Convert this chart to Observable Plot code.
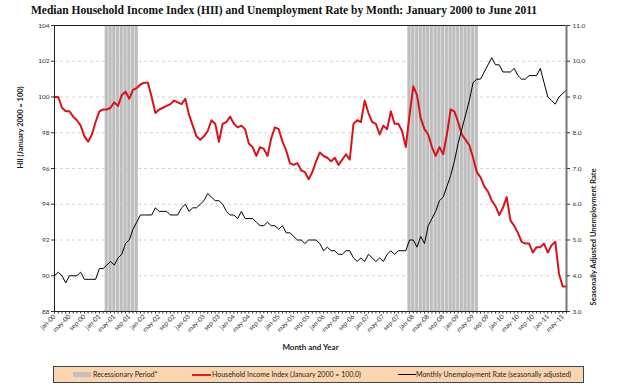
<!DOCTYPE html>
<html><head><meta charset="utf-8">
<script src="https://cdn.jsdelivr.net/npm/d3@7"></script>
<script src="https://cdn.jsdelivr.net/npm/@observablehq/plot@0.6"></script>
<style>
body{margin:0;background:#fff;width:620px;height:386px;overflow:hidden;position:relative;font-family:Lato,sans-serif}
#title{position:absolute;left:0;top:4px;width:568px;text-align:center;font:bold 11.5px "Liberation Serif",serif;color:#111;white-space:nowrap}
#chart{position:absolute;left:0;top:22px}
#legend{position:absolute;left:53px;top:366px;width:529px;height:15px;background:#fbd5b0;border:1px solid #444;font-size:7px;color:#222}
#legend span{position:absolute;top:3px;white-space:nowrap}
#legend i{position:absolute;display:block}
</style></head>
<body>
<div id="title">Median Household Income Index (HII) and Unemployment Rate by Month: January 2000 to June 2011</div>
<div id="chart"></div>
<div id="legend">
  <i style="left:19px;top:5px;width:18px;height:5px;background:#c0c0c0"></i><span style="left:39px">Recessionary Period*</span>
  <i style="left:138px;top:6.5px;width:19px;height:2px;background:#e0201f"></i><span style="left:158px">Household Income Index (January 2000 = 100.0)</span>
  <i style="left:344px;top:7px;width:18px;height:1.2px;background:#000"></i><span style="left:362px">Monthly Unemployment Rate (seasonally adjusted)</span>
</div>
<script>
// Household Income Index, monthly Jan 2000 .. Jun 2011
const hhi = [
  100.0,100.0,99.4,99.2,99.2,98.9,98.7,98.4,97.8,97.5,97.9,98.6,
  99.2,99.3,99.3,99.4,99.7,99.5,100.1,100.3,99.9,100.4,100.5,100.7,
  100.8,100.8,100.0,99.1,99.3,99.4,99.5,99.6,99.8,99.7,99.6,99.9,
  99.0,98.4,97.8,97.6,97.8,98.1,98.7,98.5,97.5,98.5,98.6,98.9,
  98.5,98.3,98.4,98.2,97.4,97.2,96.7,97.2,97.1,96.7,97.7,98.3,
  98.2,97.5,97.0,96.3,96.2,96.3,95.9,95.8,95.4,95.8,96.4,96.9,
  96.7,96.6,96.4,96.6,96.2,96.5,96.8,96.5,98.5,98.7,98.6,99.8,
  99.1,98.6,98.5,97.9,98.4,98.2,99.2,98.5,98.5,98.1,97.2,99.0,
  100.6,100.1,98.8,98.2,97.9,97.2,96.7,97.2,96.8,97.9,99.3,99.2,
  98.6,97.9,97.6,97.3,96.6,95.8,95.5,95.0,94.7,94.2,93.9,93.4,
  93.8,94.4,93.1,92.8,92.4,91.9,91.8,91.8,91.3,91.6,91.6,91.8,
  91.3,91.7,91.9,90.1,89.4,89.4
];
// Seasonally adjusted unemployment rate, monthly Jan 2000 .. Jun 2011
const unemployment = [
  4.0,4.1,4.0,3.8,4.0,4.0,4.0,4.1,3.9,3.9,3.9,3.9,
  4.2,4.2,4.3,4.4,4.3,4.5,4.6,4.9,5.0,5.3,5.5,5.7,
  5.7,5.7,5.7,5.9,5.8,5.8,5.8,5.7,5.7,5.7,5.9,6.0,
  5.8,5.9,5.9,6.0,6.1,6.3,6.2,6.1,6.1,6.0,5.8,5.7,
  5.7,5.6,5.8,5.6,5.6,5.6,5.5,5.4,5.4,5.5,5.4,5.4,
  5.3,5.4,5.2,5.2,5.1,5.0,5.0,4.9,5.0,5.0,5.0,4.9,
  4.7,4.8,4.7,4.7,4.6,4.6,4.7,4.7,4.5,4.4,4.5,4.4,
  4.6,4.5,4.4,4.5,4.4,4.6,4.7,4.6,4.7,4.7,4.7,5.0,
  5.0,4.8,5.1,4.9,5.4,5.6,5.8,6.1,6.2,6.5,6.8,7.2,
  7.7,8.1,8.5,8.9,9.4,9.5,9.5,9.7,9.9,10.1,9.9,9.9,
  9.7,9.7,9.7,9.8,9.6,9.5,9.5,9.6,9.6,9.6,9.8,9.4,
  9.0,8.9,8.8,9.0,9.1,9.2
];
const recessionStart = ["2001-03", "2007-12"];
const recessionEnd = ["2001-11", "2009-06"];
const xTickLabels = ["jan-00","may-00","sep-00","jan-01","may-01","sep-01","jan-02","may-02","sep-02",
  "jan-03","may-03","sep-03","jan-04","may-04","sep-04","jan-05","may-05","sep-05","jan-06","may-06","sep-06",
  "jan-07","may-07","sep-07","jan-08","may-08","sep-08","jan-09","may-09","sep-09","jan-10","may-10","sep-10",
  "jan-11","may-11"];
const leftTicks = [88,90,92,94,96,98,100,102,104];
const rightTicks = [3,4,5,6,7,8,9,10,11];

const monthIndex = s => (+s.slice(0,4) - 2000) * 12 + (+s.slice(5,7) - 1);
const toLeft = u => 88 + (u - 3) * 2;
const months = d3.range(hhi.length);
const data = months.map(i => ({i, hhi: hhi[i], u: unemployment[i]}));
const recMonths = [];
recessionStart.forEach((s, k) => { for (let m = monthIndex(s); m <= monthIndex(recessionEnd[k]); m++) recMonths.push(m); });
const labelPos = xTickLabels.map((_, k) => k * 4);

const chart = Plot.plot({
  width: 620, height: 340,
  marginTop: 3, marginBottom: 51, marginLeft: 54, marginRight: 54,
  style: {fontFamily: "Lato, sans-serif", fontSize: "6.5px", color: "#333", background: "transparent", overflow: "visible"},
  x: {domain: [0, hhi.length - 1], label: null},
  y: {domain: [88, 104], label: null},
  marks: [
    Plot.rect(recMonths, {x1: m => m - 0.5, x2: m => m + 0.5, y1: () => 88, y2: () => 104, fill: "#d6d6d6"}),
    Plot.rect(recMonths, {x1: m => m - 0.5, x2: m => m + 0.5, y1: () => 88, y2: () => 104, fill: "#bdbdbd", insetLeft: 0.6, insetRight: 0.6}),
    Plot.ruleY(leftTicks.slice(1, -1), {stroke: "#c8c8c8", strokeDasharray: "3,3", strokeWidth: 0.8}),
    Plot.line(data, {x: "i", y: "hhi", stroke: "#d7141c", strokeWidth: 2}),
    Plot.line(data, {x: "i", y: d => toLeft(d.u), stroke: "#000", strokeWidth: 1}),
    Plot.frame({stroke: "#222"}),
    Plot.ruleX([hhi.length - 1], {stroke: "#777", strokeWidth: 2}),
    Plot.axisY({ticks: leftTicks, anchor: "left", tickSize: 3, tickPadding: 2, tickFormat: d => String(d), label: null}),
    Plot.axisY({ticks: rightTicks.map(toLeft), anchor: "right", tickSize: 3, tickPadding: 3, tickFormat: v => ((v - 88) / 2 + 3).toFixed(1), label: null}),
    Plot.axisX({ticks: months, anchor: "bottom", tickSize: 2.5, tickFormat: () => "", label: null}),
    Plot.axisX({ticks: labelPos, anchor: "bottom", tickSize: 0, tickPadding: 4, tickRotate: -45, tickFormat: i => xTickLabels[i / 4], label: null}),
    Plot.text(["HII (January 2000 = 100)"], {frameAnchor: "left", dx: -34, rotate: -90, fontWeight: "bold", fontSize: 7.5, fill: "#222"}),
    Plot.text(["Seasonally Adjusted Unemployment Rate"], {frameAnchor: "right", dx: 27, rotate: -90, fontWeight: "bold", fontSize: 7.5, fill: "#222"}),
    Plot.text(["Month and Year"], {frameAnchor: "bottom", dy: 38, fontWeight: "bold", fontSize: 8, fill: "#222"})
  ]
});
document.getElementById("chart").appendChild(chart);
</script>
</body></html>
